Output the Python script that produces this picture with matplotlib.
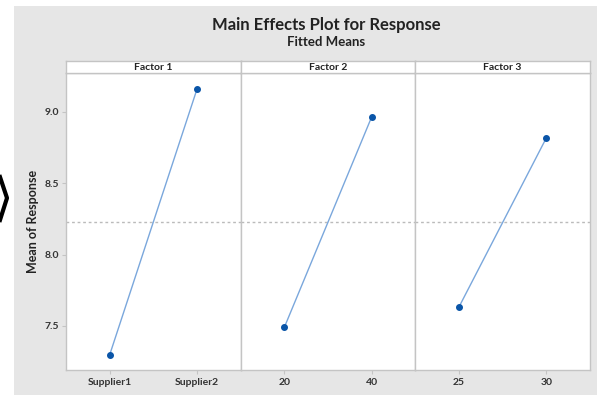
import matplotlib.pyplot as plt
from matplotlib.patches import Rectangle
from matplotlib.lines import Line2D

# Data
factors = ["Factor 1", "Factor 2", "Factor 3"]
levels = [["Supplier1", "Supplier2"], ["20", "40"], ["25", "30"]]
means = [[7.297, 9.16], [7.49, 8.965], [7.633, 8.818]]
grand_mean = 8.229
yticks = [7.5, 8.0, 8.5, 9.0]

W, H = 597, 395
plt.rcParams['font.family'] = ['Lato', 'DejaVu Sans']
fig = plt.figure(figsize=(W / 100, H / 100), dpi=100, facecolor="white")

# grey background panel
fig.patches.append(Rectangle((14 / W, 0), 1 - 14 / W, 1 - 6 / H, transform=fig.transFigure,
                             facecolor="#e6e6e6", edgecolor="none", zorder=-10))
# chevron artifact at left edge
fig.add_artist(Line2D([0 / W, 7 / W, 0 / W], [1 - 177 / H, 1 - 198 / H, 1 - 220 / H],
                      transform=fig.transFigure, color="black", lw=3))

fig.text(326 / W, 1 - 25 / H, "Main Effects Plot for Response", ha="center", va="center",
         fontsize=12, fontweight="bold", color="#222222")
fig.text(326 / W, 1 - 42 / H, "Fitted Means", ha="center", va="center",
         fontsize=9.5, fontweight="bold", color="#222222")

left, right = 66, 590
pw = (right - left) / 3
bottom, top, strip_top = 370, 73, 61
ylo, yhi = 7.191, 9.273
edge = "#c4c4c4"

for i in range(3):
    x0 = left + i * pw
    ax = fig.add_axes([x0 / W, (H - bottom) / H, pw / W, (bottom - top) / H])
    ax.plot([0, 1], means[i], color="#7aa7dc", lw=1.0, zorder=2)
    ax.plot([0, 1], means[i], "o", color="#0a55a8", ms=4, zorder=3)
    ax.axhline(grand_mean, color="#bbbbbb", lw=1, ls=(0, (2, 2)), zorder=1)
    ax.set_xlim(-0.5, 1.5)
    ax.set_ylim(ylo, yhi)
    ax.set_xticks([0, 1])
    ax.set_xticklabels(levels[i], fontsize=7.5, fontweight="bold", color="#333333")
    ax.set_yticks(yticks)
    if i == 0:
        ax.set_yticklabels([f"{v:.1f}" for v in yticks], fontsize=7.5, fontweight="bold", color="#333333")
        ax.set_ylabel("Mean of Response", fontsize=9, fontweight="bold", color="#222222", labelpad=4)
        ax.tick_params(axis="y", length=3, color=edge, pad=2)
    else:
        ax.tick_params(axis="y", length=0, labelleft=False)
    ax.tick_params(axis="x", length=3, color=edge, pad=3)
    for s in ax.spines.values():
        s.set_color(edge)
        s.set_linewidth(1)

    # strip header
    sx = fig.add_axes([x0 / W, (H - top) / H, pw / W, (top - strip_top) / H])
    sx.set_xticks([])
    sx.set_yticks([])
    for s in sx.spines.values():
        s.set_color(edge)
        s.set_linewidth(1)
    sx.text(0.5, 0.5, factors[i], ha="center", va="center", fontsize=7.5,
            fontweight="bold", color="#222222", transform=sx.transAxes)

fig.savefig("out.png", dpi=100, facecolor="white")
